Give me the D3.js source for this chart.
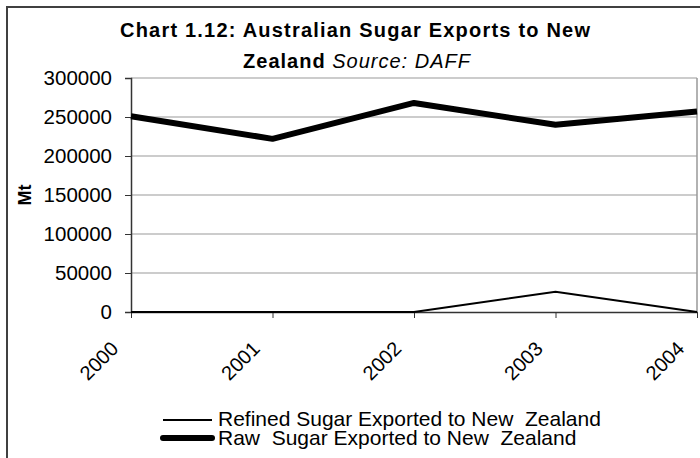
<!DOCTYPE html>
<html><head><meta charset="utf-8">
<script src="https://cdn.jsdelivr.net/npm/d3@7"></script>
<style>body{margin:0;background:#fff}svg{display:block;font-family:Arial,"Liberation Sans",sans-serif}</style>
</head><body>
<svg id="c" width="700" height="458"></svg>
<script>
const years = ["2000","2001","2002","2003","2004"];
const refined = [0, 0, 0, 26000, 0];
const raw = [251000, 222000, 268000, 240000, 257000];
const yTicks = [0,50000,100000,150000,200000,250000,300000];
const seriesNames = ["Refined Sugar Exported to New  Zealand","Raw  Sugar Exported to New  Zealand"];

const svg = d3.select("#c");
// outer border
svg.append("rect").attr("x",7).attr("y",7).attr("width",720).attr("height",480)
  .attr("fill","none").attr("stroke","#404040").attr("stroke-width",2);

const L=131,R=697,T=78,B=312;
const x = d3.scalePoint().domain(years).range([L,R]);
const y = d3.scaleLinear().domain([0,300000]).range([B,T]);

// gridlines
svg.append("g").selectAll("line").data(yTicks.filter(d=>d>0)).join("line")
  .attr("x1",L).attr("x2",R).attr("y1",d=>y(d)).attr("y2",d=>y(d))
  .attr("stroke","#999").attr("stroke-width",1.2);
// right border
svg.append("line").attr("x1",R).attr("x2",R).attr("y1",T).attr("y2",B).attr("stroke","#999").attr("stroke-width",1.5);

// y axis
const ya = svg.append("g").attr("transform",`translate(${L},0)`)
  .call(d3.axisLeft(y).tickValues(yTicks).tickSize(6).tickPadding(13).tickFormat(d3.format("d")));
ya.select(".domain").attr("stroke","#333").attr("stroke-width",1.5);
ya.selectAll(".tick line").attr("stroke","#333");
ya.selectAll("text").attr("font-size",20.5).attr("fill","#000").attr("font-family","Arial,'Liberation Sans',sans-serif");

// x axis
const xa = svg.append("g").attr("transform",`translate(0,${B})`)
  .call(d3.axisBottom(x).tickSize(6).tickSizeOuter(0));
xa.select(".domain").attr("stroke","#333").attr("stroke-width",1.5);
xa.selectAll(".tick line").attr("stroke","#333");
xa.selectAll("text").attr("font-size",20).attr("fill","#000")
  .attr("font-family","Arial,'Liberation Sans',sans-serif")
  .attr("text-anchor","end").attr("dy",0).attr("y",0)
  .attr("transform","translate(-12,38) rotate(-45)");

const line = d3.line().x((d,i)=>x(years[i])).y(d=>y(d));
svg.append("path").datum(refined).attr("d",line).attr("fill","none").attr("stroke","#000").attr("stroke-width",2);
svg.append("path").datum(raw).attr("d",line).attr("fill","none").attr("stroke","#000").attr("stroke-width",6).attr("stroke-linejoin","round");

// title
const t = svg.append("text").attr("text-anchor","middle").attr("font-weight","bold").attr("font-size",20);
t.append("tspan").attr("x",355).attr("y",37).attr("textLength",470).attr("lengthAdjust","spacing").text("Chart 1.12: Australian Sugar Exports to New");
const t2 = svg.append("text").attr("x",357).attr("y",68).attr("text-anchor","middle").attr("font-size",20).attr("letter-spacing",1);
t2.append("tspan").attr("font-weight","bold").text("Zealand ");
t2.append("tspan").attr("font-style","italic").text("Source: DAFF");

// y title
svg.append("text").attr("transform","translate(31,195) rotate(-90)").attr("text-anchor","middle")
  .attr("font-weight","bold").attr("font-size",18).text("Mt");

// legend
const lg = svg.append("g");
const widths=[2,6];
seriesNames.forEach((n,i)=>{
  const yy = 420 + i*18;
  lg.append("line").attr("x1",163).attr("x2",212).attr("y1",yy).attr("y2",yy)
    .attr("stroke","#000").attr("stroke-width",widths[i]).attr("stroke-linecap",i?"round":"butt");
  lg.append("text").attr("x",218).attr("y",426 + i*19).attr("font-size",21).attr("xml:space","preserve").style("white-space","pre").text(n);
});
</script>
</body></html>
